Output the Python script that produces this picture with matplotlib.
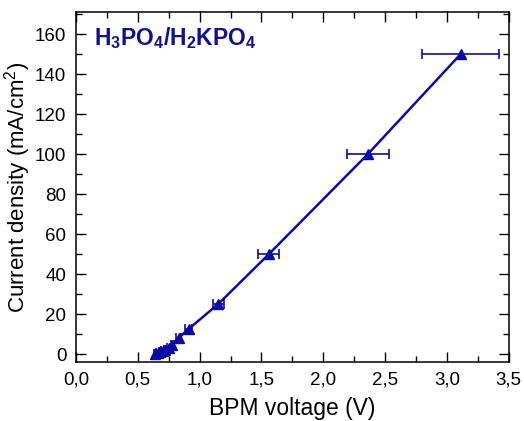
import numpy as np
import matplotlib
matplotlib.use("Agg")
import matplotlib.pyplot as plt
from matplotlib.ticker import MultipleLocator, FuncFormatter

plt.rcParams['font.family'] = ['Liberation Sans', 'DejaVu Sans']
plt.rcParams['mathtext.fontset'] = 'custom'
plt.rcParams['mathtext.rm'] = 'Liberation Sans'
plt.rcParams['mathtext.bf'] = 'Liberation Sans:bold'

# datos
voltage = [0.64, 0.66, 0.68, 0.70, 0.72, 0.75, 0.78, 0.83, 0.91, 1.15, 1.56, 2.36, 3.11]
current = [0, 0.5, 1, 1.5, 2, 3, 4.5, 8, 12.5, 25, 50, 100, 150]
volt_err = [0.01, 0.01, 0.01, 0.01, 0.01, 0.015, 0.015, 0.02, 0.03, 0.045, 0.085, 0.17, 0.31]

color = '#0a0aa8'

fig = plt.figure(figsize=(5.24, 4.21), dpi=100)
ax = fig.add_axes([0.145, 0.140, 0.826, 0.831])

ax.errorbar(voltage, current, xerr=volt_err, color=color, lw=1.8,
            marker='^', ms=7, mfc=color, mec=color,
            ecolor=color, elinewidth=1.2, capsize=3.5, capthick=1.2)

ax.set_xlim(0, 3.5)
ax.set_ylim(-4, 171)
ax.xaxis.set_major_locator(MultipleLocator(0.5))
ax.xaxis.set_minor_locator(MultipleLocator(0.25))
ax.yaxis.set_major_locator(MultipleLocator(20))
ax.yaxis.set_minor_locator(MultipleLocator(10))
ax.xaxis.set_major_formatter(FuncFormatter(lambda v, p: f"{v:.1f}".replace('.', ',')))
ax.yaxis.set_major_formatter(FuncFormatter(lambda v, p: f"{v:.0f}"))

ax.tick_params(which='both', direction='in', top=True, right=True, labelsize=13.5, width=1)
ax.tick_params(which='major', length=7, pad=7)
ax.tick_params(which='minor', length=4.5)
for s in ax.spines.values():
    s.set_linewidth(1.1)

ax.set_xlabel("BPM voltage (V)", fontsize=16.5, labelpad=6)
ax.set_ylabel("Current density (mA/cm$^2$)", fontsize=16, labelpad=1)

ax.text(0.042, 0.962, r"$\mathbf{H_3PO_4/H_2KPO_4}$", transform=ax.transAxes,
        fontsize=16.5, color='#101090', va='top', ha='left')

fig.savefig("out.png", dpi=100)
